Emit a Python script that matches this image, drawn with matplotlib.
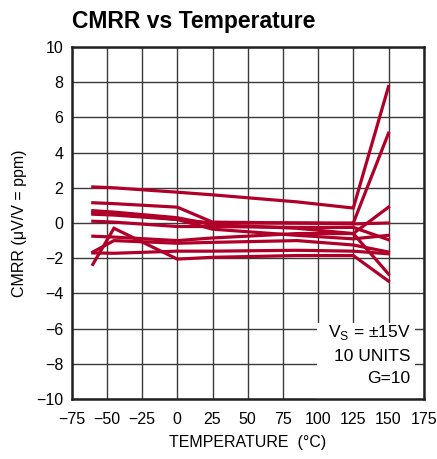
import matplotlib
matplotlib.use("Agg")
import matplotlib.pyplot as plt
from matplotlib.patches import Rectangle

temps = [-60, -45, 0, 25, 85, 125, 150]
unit1 = [2.05, 2.0, 1.75, 1.6, 1.2, 0.85, 7.75]
unit2 = [1.15, 1.1, 0.9, 0.05, 0.0, 0.0, 5.1]
unit3 = [0.7, 0.62, 0.3, -0.1, -0.3, -0.6, 0.9]
unit4 = [0.6, 0.55, 0.2, 0.0, 0.0, -0.05, 0.0]
unit5 = [0.5, 0.45, 0.2, -0.35, -0.7, -0.9, -0.7]
unit6 = [0.1, 0.05, -0.2, -0.2, -0.25, -0.25, -0.95]
unit7 = [-0.75, -0.8, -1.0, -0.85, -0.6, -0.6, -2.9]
unit8 = [-1.65, -1.0, -1.15, -1.1, -1.0, -1.25, -1.65]
unit9 = [-1.7, -1.72, -1.6, -1.6, -1.55, -1.6, -1.75]
unit10 = [-2.35, -0.3, -2.05, -1.95, -1.85, -1.85, -3.3]
units = [unit1, unit2, unit3, unit4, unit5, unit6, unit7, unit8, unit9, unit10]

xticks = [-75, -50, -25, 0, 25, 50, 75, 100, 125, 150, 175]
yticks = [-10, -8, -6, -4, -2, 0, 2, 4, 6, 8, 10]

fam = ['Liberation Sans', 'DejaVu Sans']
plt.rcParams['font.family'] = fam

fig = plt.figure(figsize=(4.37, 4.59), dpi=100)
ax = fig.add_axes([71.7/437, 1-399/459, 352/437, 352/459])
ax.set_xlim(-75, 175)
ax.set_ylim(-10, 10)
ax.set_xticks(xticks)
ax.set_yticks(yticks)
ax.set_xticklabels([f"{t:d}".replace('-', '\u2212') for t in xticks], fontsize=11.5)
ax.set_yticklabels([f"{t:d}".replace('-', '\u2212') for t in yticks], fontsize=11.5)
ax.tick_params(axis='x', length=0, pad=9)
ax.tick_params(axis='y', length=0, pad=6)
ax.grid(True, color='#3a3a3a', lw=1.0, zorder=0)
ax.set_axisbelow(True)
for s in ax.spines.values():
    s.set_linewidth(1.8)
    s.set_color('#222222')

for u in units:
    ax.plot(temps, u, color='#B0002A', lw=2.3, solid_joinstyle='miter', zorder=3)

ax.add_patch(Rectangle((99, -10), 70, 4.3, facecolor='white', edgecolor='none', zorder=2))
ax.text(165.5, -6.25, r'V$_\mathregular{S}$ = ±15V', ha='right', va='center', fontsize=12.5, zorder=4)
ax.text(165.5, -7.6, '10 UNITS', ha='right', va='center', fontsize=12.5, zorder=4)
ax.text(165.5, -8.85, 'G=10', ha='right', va='center', fontsize=12.5, zorder=4)

ax.set_xlabel('TEMPERATURE  (°C)', fontsize=11.5, labelpad=6)
ax.set_ylabel('CMRR (μV/V = ppm)', fontsize=11.5, labelpad=7)
fig.text(72/437, 1-28/459, 'CMRR vs Temperature', fontsize=16.5, fontweight='bold', ha='left', va='baseline')

fig.savefig('out.png', dpi=100)
